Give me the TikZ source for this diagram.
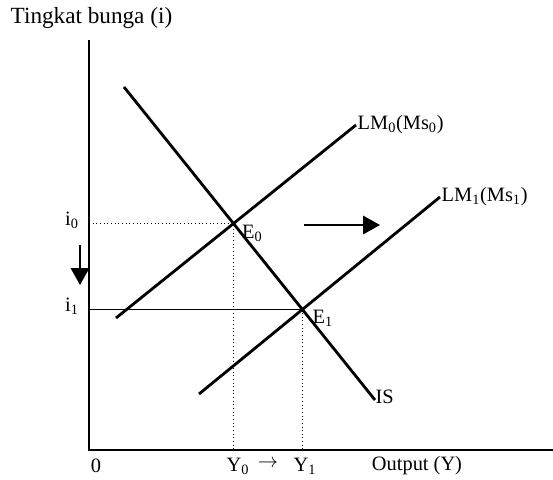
\documentclass[tikz,border=0pt]{standalone}
\usepackage{fontspec}
\setmainfont{Liberation Serif}
\usetikzlibrary{arrows.meta}

\begin{document}
\begin{tikzpicture}[x=0.025cm,y=-0.025cm,
  every node/.style={font=\fontsize{14.5}{17}\selectfont,inner sep=1pt},
  kurva/.style={line width=2pt},
  sumbu/.style={line width=1.4pt},
  bantu/.style={line width=0.6pt,dotted},
  panah/.style={line width=1.5pt,-{Triangle[length=12pt,width=13pt]}}]
  \useasboundingbox (0,0) rectangle (553,480);

  % Titik-titik sumbu
  \coordinate (o) at (89,450);
  \coordinate (ytop) at (89,40);
  \coordinate (xend) at (553,450);

  % Ujung-ujung kurva IS dan LM
  \coordinate (is1) at (124,87);
  \coordinate (is2) at (375,400);
  \coordinate (lma) at (116,318);
  \coordinate (lmb) at (356,125);
  \coordinate (lmc) at (199,394);
  \coordinate (lmd) at (440,197);

  % Titik keseimbangan
  \coordinate (e0) at (intersection of is1--is2 and lma--lmb);
  \coordinate (e1) at (intersection of is1--is2 and lmc--lmd);
  \coordinate (i0) at (o |- e0);
  \coordinate (i1) at (o |- e1);
  \coordinate (y0) at (o -| e0);
  \coordinate (y1) at (o -| e1);

  % Sumbu
  \draw[sumbu] (ytop) -- (o) -- (xend);

  % Garis bantu
  \draw[bantu] (i0) -- (e0) -- (y0);
  \draw[bantu] (e1) -- (y1);
  \draw[line width=0.5pt] (i1) -- (e1);

  % Kurva
  \foreach \from/\to in {is1/is2, lma/lmb, lmc/lmd}
    \draw[kurva] (\from) -- (\to);

  % Label
  \node[anchor=west,font=\fontsize{16.5}{19}\selectfont] (judul) at (9,18) {Tingkat bunga (i)};
  \node[anchor=west] (lm0) at (lmb) {LM\textsubscript{0}(Ms\textsubscript{0})};
  \node[anchor=west] (lm1) at (lmd) {LM\textsubscript{1}(Ms\textsubscript{1})};
  \node[anchor=west] (is) at (374,397) {IS};
  \node[anchor=north west] (le0) at ([xshift=5pt]e0) {E\textsubscript{0}};
  \node[anchor=north west] (le1) at ([xshift=6pt,yshift=1pt]e1) {E\textsubscript{1}};
  \node (li0) at (72,220) {i\textsubscript{0}};
  \node (li1) at (72,306) {i\textsubscript{1}};
  \node (nol) at (96,466) {0};
  \node (ly0) at (238,466) {Y\textsubscript{0}};
  \node (ly1) at (305,466) {Y\textsubscript{1}};
  \node (out) at (417,466) {Output (Y)};
  \node (geser) at (268,464) {$\rightarrow$};

  % Panah pergeseran
  \coordinate (a1) at (80,245);
  \coordinate (a2) at (80,285);
  \coordinate (b1) at (304,225);
  \coordinate (b2) at (380,225);
  \draw[panah] (a1) -- (a2);
  \draw[panah] (b1) -- (b2);
\end{tikzpicture}
\end{document}
